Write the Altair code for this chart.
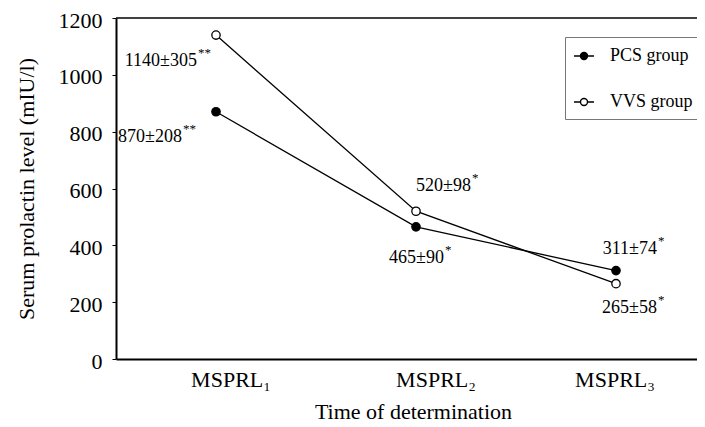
import altair as alt
import pandas as pd

# ---- data ----
times = ["MSPRL\u2081", "MSPRL\u2082", "MSPRL\u2083"]
time_index = [1, 2, 3]
groups = ["PCS group", "VVS group"]
pcs_mean = [870, 465, 311]
pcs_sd = [208, 90, 74]
pcs_stars = ["**", "*", "*"]
vvs_mean = [1140, 520, 265]
vvs_sd = [305, 98, 58]
vvs_stars = ["**", "*", "*"]
y_ticks = [0, 200, 400, 600, 800, 1000, 1200]

rows = []
for g, means, sds, stars in [(groups[0], pcs_mean, pcs_sd, pcs_stars),
                             (groups[1], vvs_mean, vvs_sd, vvs_stars)]:
    for i, t, m, s, st in zip(time_index, times, means, sds, stars):
        rows.append({"t": i, "time": t, "group": g, "value": m,
                     "label": f"{m}\u00b1{s}", "stars": st})
df = pd.DataFrame(rows)

FONT = "Liberation Serif"
W, H = 581, 341

x_enc = alt.X("t:Q",
              scale=alt.Scale(domain=[0.5, 3.405], nice=False, zero=False),
              axis=alt.Axis(values=time_index, title="Time of determination",
                            labels=False, ticks=False, grid=False,
                            titlePadding=42, titleX=297))
y_enc = alt.Y("value:Q",
              scale=alt.Scale(domain=[0, 1200], nice=False),
              axis=alt.Axis(values=y_ticks, format="d",
                            title="Serum prolactin level (mIU/l)",
                            grid=False, tickSize=4, labelPadding=10,
                            labelOffset=2, titlePadding=20))

base = alt.Chart(df)

lines = base.mark_line(color="black", strokeWidth=1.3).encode(
    x=x_enc, y=y_enc, detail="group:N")

points = base.mark_point(shape="circle", filled=True, size=70, stroke="black",
                         strokeWidth=1.3, opacity=1).encode(
    x="t:Q", y="value:Q",
    fill=alt.Fill("group:N",
                  scale=alt.Scale(domain=groups, range=["black", "white"]),
                  legend=alt.Legend(
                      title=None, orient="none", legendX=449, legendY=19,
                      direction="vertical", strokeColor="#777",
                      padding=8, rowPadding=26, labelOffset=15,
                      labelFont=FONT, labelFontSize=18, labelColor="black",
                      symbolType="M-1,0L-0.35,0M0.35,0L1,0M-0.35,0A0.35,0.35,0,1,0,0.35,0A0.35,0.35,0,1,0,-0.35,0Z",
                      symbolSize=400, symbolStrokeColor="black",
                      symbolStrokeWidth=1.4, fillColor="white")))

top_rule = alt.Chart(pd.DataFrame({"v": [1200]})).mark_rule(
    color="black", strokeWidth=1.5).encode(
    y=alt.Y("v:Q"), x=alt.value(0), x2=alt.value(W))

# x category labels, drawn as text under the axis (per-label nudges)
tick_nudge = {1: 15, 2: 20, 3: -1}
tick_layers = []
for t, dx in tick_nudge.items():
    tick_layers.append(base.transform_filter(
        (alt.datum.group == groups[0]) & (alt.datum.t == t)).mark_text(
        font=FONT, fontSize=22, align="center", baseline="middle",
        dx=dx, color="black").encode(
        x="t:Q", y=alt.value(H + 21), text="time:N"))

# label offsets (pixels) for each point: (group, time) -> (dx, dy)
offsets = {
    (groups[1], 1): (-19, 26),
    (groups[0], 1): (-34, 25),
    (groups[1], 2): (55, -25),
    (groups[0], 2): (28, 31),
    (groups[0], 3): (41, -22),
    (groups[1], 3): (41, 24),
}

label_layers = []
for (g, t), (dx, dy) in offsets.items():
    sub = base.transform_filter(
        (alt.datum.group == g) & (alt.datum.t == t))
    label_layers.append(sub.mark_text(
        font=FONT, fontSize=18, align="right", baseline="middle",
        dx=dx, dy=dy, color="black").encode(
        x="t:Q", y="value:Q", text="label:N"))
    label_layers.append(sub.mark_text(
        font=FONT, fontSize=13, align="left", baseline="middle",
        dx=dx + 1, dy=dy - 8, color="black").encode(
        x="t:Q", y="value:Q", text="stars:N"))

chart = alt.layer(lines, top_rule, points, *tick_layers, *label_layers).properties(
    width=W, height=H,
    autosize=alt.AutoSizeParams(type="none"),
    padding={"left": 108, "top": 10, "right": 0, "bottom": 66},
    background="white",
).configure_view(stroke=None).configure_axis(
    domainColor="black", domainWidth=2, tickColor="black",
    labelFont=FONT, labelFontSize=22, labelColor="black",
    titleFont=FONT, titleFontSize=22, titleColor="black",
    titleFontWeight="normal",
)

chart.save("out.html", embed_options={"renderer": "svg", "actions": False})
